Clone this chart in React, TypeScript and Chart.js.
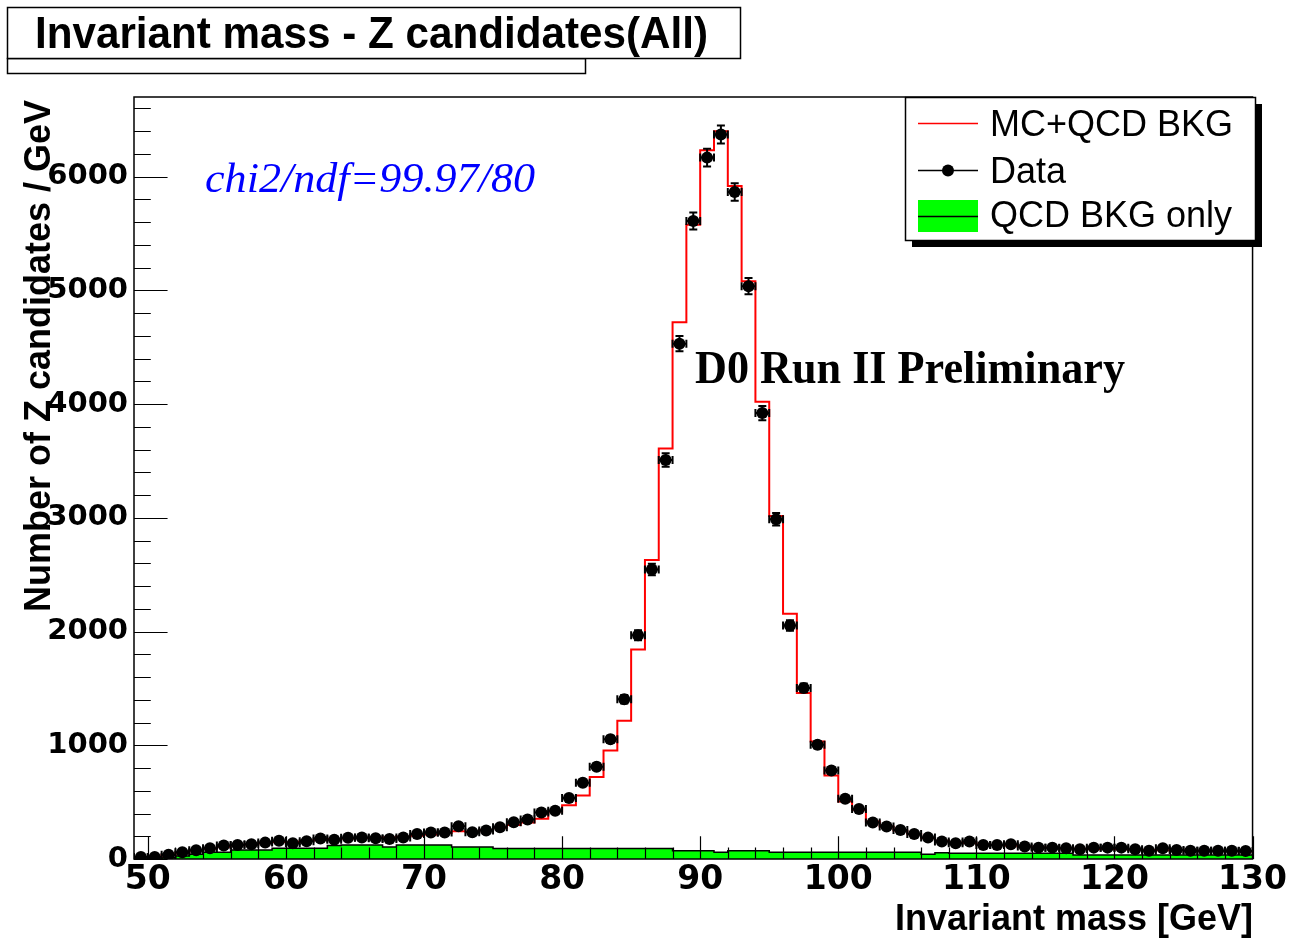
import React, { useEffect, useRef } from "react";
import { Chart, registerables } from "chart.js";

Chart.register(...registerables);

// Histogram bin edges in GeV (1 GeV bins from 49 to 130)
const massEdges = [
  49, 50, 51, 52, 53, 54, 55, 56, 57, 58, 59, 60, 61, 62, 63, 64, 65, 66, 67, 68,
  69, 70, 71, 72, 73, 74, 75, 76, 77, 78, 79, 80, 81, 82, 83, 84, 85, 86, 87, 88,
  89, 90, 91, 92, 93, 94, 95, 96, 97, 98, 99, 100, 101, 102, 103, 104, 105, 106, 107, 108,
  109, 110, 111, 112, 113, 114, 115, 116, 117, 118, 119, 120, 121, 122, 123, 124, 125, 126, 127, 128,
  129, 130,
];

// Observed Z candidates per bin
const dataCounts = [
  18, 18, 38, 60, 76, 94, 119, 123, 129, 144,
  161, 138, 157, 180, 170, 186, 190, 183, 175, 190,
  220, 232, 232, 288, 235, 250, 279, 323, 347, 409,
  425, 536, 671, 812, 1052, 1405, 1967, 2546, 3509, 4531,
  5610, 6167, 6370, 5865, 5037, 3921, 2987, 2053, 1504, 1004,
  778, 529, 440, 320, 285, 256, 220, 188, 153, 138,
  153, 123, 123, 129, 109, 100, 100, 94, 85, 100,
  100, 100, 85, 73, 94, 79, 73, 73, 73, 73,
  70,
];

// Simulation plus QCD background per bin
const mcCounts = [
  15, 20, 35, 55, 72, 90, 108, 120, 130, 140,
  150, 150, 160, 168, 175, 180, 185, 188, 190, 195,
  205, 215, 228, 245, 240, 255, 275, 300, 320, 355,
  417, 472, 558, 722, 955, 1215, 1841, 2628, 3610, 4720,
  5577, 6232, 6399, 5918, 5081, 4020, 3016, 2156, 1460, 1034,
  735, 505, 432, 330, 285, 250, 218, 185, 160, 145,
  140, 128, 122, 118, 110, 103, 98, 93, 90, 88,
  88, 85, 82, 80, 78, 76, 74, 72, 70, 68,
  66,
];

// QCD background alone per bin
const bkgCounts = [
  0, 0, 12, 26, 41, 59, 59, 79, 79, 79,
  94, 94, 94, 94, 118, 122, 122, 122, 105, 122,
  122, 122, 122, 105, 105, 105, 92, 92, 92, 92,
  92, 92, 92, 92, 92, 92, 92, 92, 92, 73,
  73, 73, 59, 73, 73, 73, 59, 59, 59, 59,
  59, 59, 59, 59, 59, 59, 59, 41, 56, 50,
  50, 50, 50, 50, 50, 50, 50, 50, 35, 35,
  35, 35, 35, 35, 35, 35, 35, 35, 35, 35,
  35,
];

const xTickValues = [50, 60, 70, 80, 90, 100, 110, 120, 130];
const yTickValues = [0, 1000, 2000, 3000, 4000, 5000, 6000];
const xMinorStep = 2;
const yMinorStep = 200;
const legendLabels = ["MC+QCD BKG", "Data", "QCD BKG only"];
const titleText = "Invariant mass - Z candidates(All)";
const xTitle = "Invariant mass [GeV]";
const yTitle = "Number of Z candidates / GeV";
const fitText = "chi2/ndf=99.97/80";
const expText = "D0 Run II Preliminary";

const W = 1289;
const H = 941;

function stepPoints(values: number[]) {
  const pts = values.map((v, i) => ({ x: massEdges[i], y: v }));
  pts.push({ x: massEdges[values.length], y: values[values.length - 1] });
  return pts;
}

function centerPoints(values: number[]) {
  return values.map((v, i) => ({ x: (massEdges[i] + massEdges[i + 1]) / 2, y: v }));
}

// Draw text squeezed/stretched horizontally to a given width
function fittedText(
  ctx: CanvasRenderingContext2D,
  text: string,
  x: number,
  y: number,
  font: string,
  width: number,
  align: CanvasTextAlign,
  color = "#000"
) {
  ctx.save();
  ctx.font = font;
  ctx.fillStyle = color;
  ctx.textBaseline = "alphabetic";
  const m = ctx.measureText(text).width;
  const sx = width / m;
  ctx.translate(x, y);
  ctx.scale(sx, 1);
  ctx.textAlign = align;
  ctx.fillText(text, 0, 0);
  ctx.restore();
}

const rootStyle = {
  id: "rootStyle",
  beforeDraw(chart: any) {
    const ctx = chart.ctx as CanvasRenderingContext2D;
    ctx.save();
    ctx.fillStyle = "#fff";
    ctx.fillRect(0, 0, chart.width, chart.height);
    ctx.restore();
  },
  beforeDatasetDraw(chart: any, args: any) {
    if (args.index !== 0) return;
    const ctx = chart.ctx as CanvasRenderingContext2D;
    const xs = chart.scales.x;
    const ys = chart.scales.y;
    const ca = chart.chartArea;
    ctx.save();
    ctx.beginPath();
    ctx.rect(ca.left, ca.top, ca.right - ca.left, ca.bottom - ca.top);
    ctx.clip();
    ctx.strokeStyle = "#000";
    ctx.lineWidth = 2;
    const cap = 4;
    dataCounts.forEach((v, i) => {
      const lo = massEdges[i];
      const hi = massEdges[i + 1];
      const c = (lo + hi) / 2;
      const err = Math.sqrt(v);
      const px = xs.getPixelForValue(c);
      const py = ys.getPixelForValue(v);
      const pl = xs.getPixelForValue(c - (hi - lo) / 2);
      const pr = xs.getPixelForValue(c + (hi - lo) / 2);
      const pt = ys.getPixelForValue(v + err);
      const pb = ys.getPixelForValue(Math.max(0, v - err));
      ctx.beginPath();
      ctx.moveTo(px, pt);
      ctx.lineTo(px, pb);
      ctx.moveTo(px - cap, pt);
      ctx.lineTo(px + cap, pt);
      ctx.moveTo(px - cap, pb);
      ctx.lineTo(px + cap, pb);
      ctx.moveTo(pl, py);
      ctx.lineTo(pr, py);
      ctx.moveTo(pl, py - cap);
      ctx.lineTo(pl, py + cap);
      ctx.moveTo(pr, py - cap);
      ctx.lineTo(pr, py + cap);
      ctx.stroke();
    });
    ctx.restore();
  },
  afterDatasetsDraw(chart: any) {
    const ctx = chart.ctx as CanvasRenderingContext2D;
    const xs = chart.scales.x;
    const ys = chart.scales.y;
    const ca = chart.chartArea;
    const fw = ca.right - ca.left;
    const fh = ca.bottom - ca.top;
    ctx.save();
    ctx.strokeStyle = "#000";
    ctx.lineWidth = 1.5;
    ctx.strokeRect(ca.left, ca.top, fw, fh);
    ctx.lineWidth = 1.2;
    ctx.beginPath();
    // x ticks pointing into the frame
    const xMajor = 0.03 * fh;
    for (let v = xTickValues[0]; v <= xs.max + 1e-9; v += xMinorStep) {
      const px = Math.round(xs.getPixelForValue(v)) + 0.5;
      const len = xTickValues.includes(v) ? xMajor : xMajor / 2;
      ctx.moveTo(px, ca.bottom);
      ctx.lineTo(px, ca.bottom - len);
    }
    // y ticks pointing into the frame
    const yMajor = 0.03 * fw;
    for (let v = 0; v <= ys.max + 1e-9; v += yMinorStep) {
      const py = Math.round(ys.getPixelForValue(v)) + 0.5;
      const len = v % 1000 === 0 ? yMajor : yMajor / 2;
      ctx.moveTo(ca.left, py);
      ctx.lineTo(ca.left + len, py);
    }
    ctx.stroke();
    ctx.restore();
  },
  afterDraw(chart: any) {
    const ctx = chart.ctx as CanvasRenderingContext2D;
    ctx.save();

    // Title boxes
    ctx.fillStyle = "#fff";
    ctx.strokeStyle = "#000";
    ctx.lineWidth = 1.5;
    ctx.fillRect(7, 58, 578, 15);
    ctx.strokeRect(7.5, 58.5, 578, 15);
    ctx.fillRect(7, 7, 733, 51);
    ctx.strokeRect(7.5, 7.5, 733, 51);
    fittedText(ctx, titleText, 35, 48, "bold 44px 'Liberation Sans'", 673, "left");

    // Annotations inside the frame
    fittedText(ctx, fitText, 205, 192, "italic 42px 'Liberation Serif'", 330, "left", "#0000ff");
    fittedText(ctx, expText, 695, 383, "bold 46px 'Liberation Serif'", 430, "left");

    // Axis titles
    fittedText(ctx, xTitle, 1253, 930, "bold 37px 'Liberation Sans'", 358, "right");
    ctx.save();
    ctx.translate(50, 612);
    ctx.rotate(-Math.PI / 2);
    fittedText(ctx, yTitle, 0, 0, "bold 37px 'Liberation Sans'", 512, "left");
    ctx.restore();

    // Legend with drop shadow
    const lx = 905, ly = 97, lw = 350, lh = 143;
    ctx.fillStyle = "#000";
    ctx.fillRect(lx + 7, ly + 7, lw, lh);
    ctx.fillStyle = "#fff";
    ctx.fillRect(lx, ly, lw, lh);
    ctx.strokeStyle = "#000";
    ctx.lineWidth = 1.5;
    ctx.strokeRect(lx + 0.5, ly + 0.5, lw, lh);

    // MC entry
    ctx.strokeStyle = "#ff0000";
    ctx.lineWidth = 1.5;
    ctx.beginPath();
    ctx.moveTo(918, 123.5);
    ctx.lineTo(978, 123.5);
    ctx.stroke();
    // Data entry
    ctx.strokeStyle = "#000";
    ctx.beginPath();
    ctx.moveTo(918, 170.5);
    ctx.lineTo(978, 170.5);
    ctx.stroke();
    ctx.fillStyle = "#000";
    ctx.beginPath();
    ctx.arc(948, 170.5, 6, 0, Math.PI * 2);
    ctx.fill();
    // Background entry
    ctx.fillStyle = "#00ff00";
    ctx.fillRect(918, 200, 60, 32);
    ctx.beginPath();
    ctx.moveTo(918, 216.5);
    ctx.lineTo(978, 216.5);
    ctx.stroke();

    ctx.fillStyle = "#000";
    ctx.font = "36px 'Liberation Sans'";
    ctx.textAlign = "left";
    ctx.textBaseline = "alphabetic";
    ctx.fillText(legendLabels[0], 990, 136);
    ctx.fillText(legendLabels[1], 990, 183);
    ctx.fillText(legendLabels[2], 990, 227);

    ctx.restore();
  },
};

export default function App() {
  const canvasRef = useRef<HTMLCanvasElement | null>(null);

  useEffect(() => {
    const canvas = canvasRef.current;
    if (!canvas) return;
    const chart = new Chart(canvas, {
      type: "line",
      data: {
        datasets: [
          {
            label: legendLabels[1],
            type: "scatter",
            data: centerPoints(dataCounts),
            showLine: false,
            pointRadius: 6,
            pointBackgroundColor: "#000",
            pointBorderColor: "#000",
            pointBorderWidth: 0,
            order: 0,
          } as any,
          {
            label: legendLabels[0],
            type: "line",
            data: stepPoints(mcCounts),
            stepped: "before",
            borderColor: "#ff0000",
            borderWidth: 2,
            pointRadius: 0,
            fill: false,
            order: 1,
          } as any,
          {
            label: legendLabels[2],
            type: "line",
            data: stepPoints(bkgCounts),
            stepped: "before",
            borderColor: "#000",
            borderWidth: 1.5,
            backgroundColor: "#00ff00",
            fill: "origin",
            pointRadius: 0,
            order: 2,
          } as any,
        ],
      },
      options: {
        responsive: false,
        animation: false,
        devicePixelRatio: 1,
        layout: { padding: { top: 97, right: 35, left: 0, bottom: 0 } },
        plugins: {
          legend: { display: false },
          tooltip: { enabled: false },
          title: { display: false },
        },
        scales: {
          x: {
            type: "linear",
            min: 49,
            max: 130,
            afterBuildTicks: (s: any) => {
              s.ticks = xTickValues.map((v) => ({ value: v }));
            },
            afterFit: (s: any) => {
              s.height = 82;
            },
            grid: { display: false, drawTicks: false },
            border: { display: false },
            ticks: {
              color: "#000",
              font: { family: "'DejaVu Sans'", weight: "bold", size: 33 },
              padding: 2,
              maxRotation: 0,
              autoSkip: false,
              callback: (v: any) => String(v),
            },
          },
          y: {
            type: "linear",
            min: 0,
            max: 6700,
            afterBuildTicks: (s: any) => {
              s.ticks = yTickValues.map((v) => ({ value: v }));
            },
            afterFit: (s: any) => {
              s.width = 134;
            },
            grid: { display: false, drawTicks: false },
            border: { display: false },
            ticks: {
              color: "#000",
              font: { family: "'DejaVu Sans'", weight: "bold", size: 29 },
              padding: 6,
              autoSkip: false,
              callback: (v: any) => String(v),
            },
          },
        },
      } as any,
      plugins: [rootStyle as any],
    });
    return () => chart.destroy();
  }, []);

  return (
    <div style={{ position: "fixed", left: 0, top: 0, width: W, height: H, background: "#fff" }}>
      <canvas ref={canvasRef} width={W} height={H} style={{ display: "block" }} />
    </div>
  );
}
